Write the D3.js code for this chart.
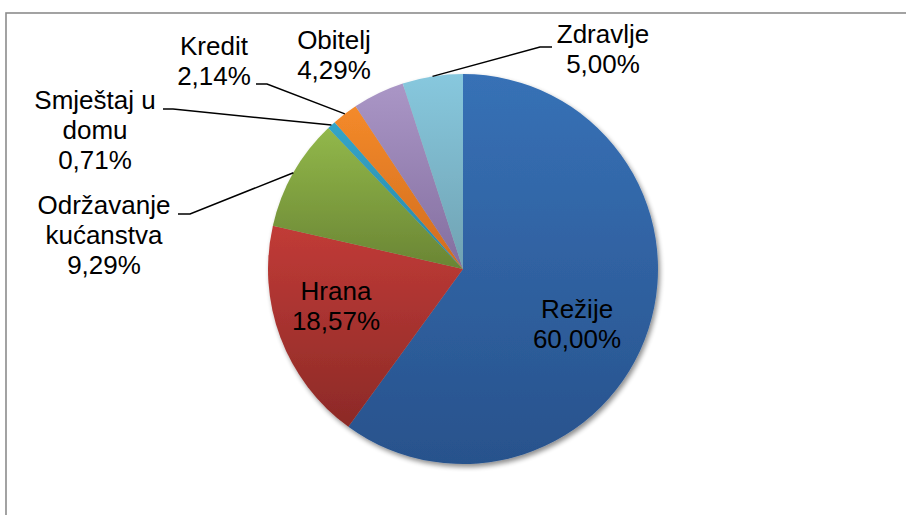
<!DOCTYPE html>
<html>
<head>
<meta charset="utf-8">
<script src="https://cdn.jsdelivr.net/npm/d3@7"></script>
<style>
  html, body { margin: 0; padding: 0; background: #fff; }
  svg { display: block; }
  text { font-family: "Liberation Sans", Arial, sans-serif; font-size: 26px; fill: #000; }
</style>
</head>
<body>
<svg id="chart" width="906" height="515"></svg>
<script>
const categories = ['Režije', 'Hrana', 'Održavanje kućanstva', 'Smještaj u domu', 'Kredit', 'Obitelj', 'Zdravlje'];
const values = [60.00, 18.57, 9.29, 0.71, 2.14, 4.29, 5.00];
const labelLines = [
    ['Režije', '60,00%'],
    ['Hrana', '18,57%'],
    ['Održavanje', 'kućanstva', '9,29%'],
    ['Smještaj u', 'domu', '0,71%'],
    ['Kredit', '2,14%'],
    ['Obitelj', '4,29%'],
    ['Zdravlje', '5,00%']
];

// top / bottom gradient stops per slice
const colors = [
    ['#3771b6', '#28528c'],
    ['#c13b37', '#8c2a27'],
    ['#92b84a', '#6a8534'],
    ['#33a5c9', '#2a87a5'],
    ['#f48a2a', '#d06c1e'],
    ['#aa96c6', '#836e9f'],
    ['#87c8de', '#70a2b2']
];

// label layout: anchor point (x, first baseline) and leader elbow
const layout = [
    { x: 577, y: 318 },
    { x: 336, y: 300 },
    { x: 104, y: 214, leader: [[178, 214], [190, 214]] },
    { x: 95, y: 109, leader: [[163, 109], [173, 109]] },
    { x: 214, y: 55, leader: [[256, 84], [267, 84]] },
    { x: 334, y: 49 },
    { x: 603, y: 43, leader: [[552, 47], [540, 47]] }
];

const cx = 463, cy = 269, radius = 195, lineH = 30;

const svg = d3.select('#chart');
const defs = svg.append('defs');

colors.forEach((c, i) => {
    const g = defs.append('linearGradient')
        .attr('id', 'grad' + i)
        .attr('x1', 0).attr('y1', 0).attr('x2', 0).attr('y2', 1);
    g.append('stop').attr('offset', '0%').attr('stop-color', c[0]);
    g.append('stop').attr('offset', '100%').attr('stop-color', c[1]);
});

const shadow = defs.append('filter')
    .attr('id', 'shadow')
    .attr('x', '-10%').attr('y', '-10%')
    .attr('width', '130%').attr('height', '130%');
shadow.append('feGaussianBlur').attr('in', 'SourceAlpha').attr('stdDeviation', 2.5);
shadow.append('feOffset').attr('dx', 2).attr('dy', 3).attr('result', 'off');
shadow.append('feComponentTransfer').append('feFuncA').attr('type', 'linear').attr('slope', 0.45);
const merge = shadow.append('feMerge');
merge.append('feMergeNode');
merge.append('feMergeNode').attr('in', 'SourceGraphic');

// chart frame
svg.append('rect')
    .attr('x', 6).attr('y', 13)
    .attr('width', 1000).attr('height', 600)
    .attr('fill', 'none')
    .attr('stroke', '#8c8c8c')
    .attr('stroke-width', 1.6);

const pie = d3.pie().sort(null).value(d => d);
const arcs = pie(values);
const arc = d3.arc().innerRadius(0).outerRadius(radius);

const pieG = svg.append('g')
    .attr('transform', `translate(${cx},${cy})`);

const slices = pieG.append('g').attr('filter', 'url(#shadow)');
slices.selectAll('path')
    .data(arcs)
    .join('path')
    .attr('d', arc)
    .attr('fill', (d, i) => `url(#grad${i})`);

// leader lines from elbow to the slice edge at mid angle
arcs.forEach((d, i) => {
    const lay = layout[i];
    if (!lay.leader) return;
    const mid = (d.startAngle + d.endAngle) / 2;
    const end = [cx + radius * Math.sin(mid), cy - radius * Math.cos(mid)];
    svg.append('path')
        .attr('d', d3.line()([...lay.leader, end]))
        .attr('fill', 'none')
        .attr('stroke', '#000')
        .attr('stroke-width', 1.5);
});

// labels
labelLines.forEach((lines, i) => {
    const lay = layout[i];
    const t = svg.append('text')
        .attr('text-anchor', 'middle')
        .attr('x', lay.x)
        .attr('y', lay.y);
    lines.forEach((s, j) => {
        t.append('tspan')
            .attr('x', lay.x)
            .attr('y', lay.y + j * lineH)
            .text(s);
    });
});
</script>
</body>
</html>
